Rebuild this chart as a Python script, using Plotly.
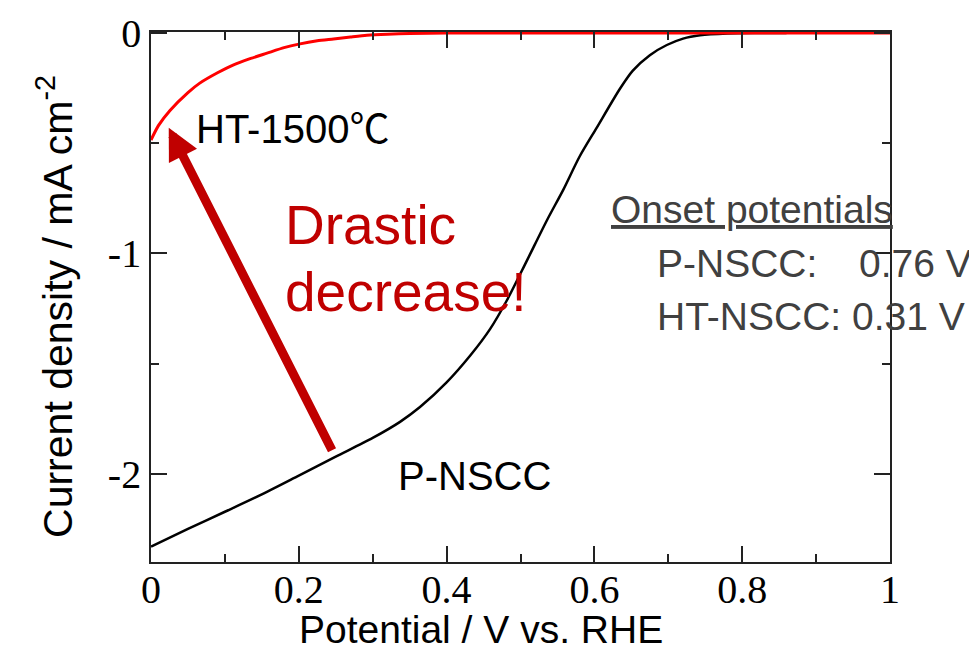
import plotly.graph_objects as go

# P-NSCC LSV curve
p_x = [0.0, 0.05, 0.10, 0.15, 0.20, 0.25, 0.30, 0.337, 0.364, 0.40, 0.432, 0.459, 0.482,
       0.509, 0.536, 0.558, 0.58, 0.603, 0.635, 0.652, 0.675, 0.698, 0.72, 0.743, 0.78,
       0.82, 0.86]
p_y = [-2.33, -2.25, -2.172, -2.093, -2.008, -1.922, -1.837, -1.764, -1.697, -1.585, -1.463,
       -1.342, -1.21, -1.03, -0.848, -0.71, -0.56, -0.43, -0.25, -0.17, -0.10, -0.054,
       -0.025, -0.01, -0.002, 0.0, 0.0]

# HT-1500 LSV curve
ht_x = [0.0, 0.01, 0.026, 0.05, 0.066, 0.09, 0.111, 0.135, 0.157, 0.18, 0.20, 0.225, 0.247,
        0.27, 0.292, 0.32, 0.35, 0.40, 0.50, 0.60, 0.70, 0.80, 0.90, 1.0]
ht_y = [-0.485, -0.42, -0.35, -0.27, -0.227, -0.18, -0.145, -0.115, -0.091, -0.066, -0.05,
        -0.035, -0.027, -0.018, -0.01, -0.005, -0.002, 0.0, 0.0, 0.0, 0.0, 0.0, 0.0, 0.0]

x_tickvals = [0, 0.2, 0.4, 0.6, 0.8, 1]
x_ticktext = ["0", "0.2", "0.4", "0.6", "0.8", "1"]
y_tickvals = [0, -1, -2]
y_ticktext = ["0", "-1", "-2"]

SANS = "Liberation Sans, Arial, Noto Sans CJK JP, sans-serif"
SERIF = "Liberation Serif, Times New Roman, serif"
DARKRED = "#C00000"
GRAY = "#404040"

fig = go.Figure()
fig.add_trace(go.Scatter(x=p_x, y=p_y, mode="lines",
                         line=dict(color="black", width=2.5, shape="spline", smoothing=0.8),
                         showlegend=False))
fig.add_trace(go.Scatter(x=ht_x, y=ht_y, mode="lines",
                         line=dict(color="#FF0000", width=3, shape="spline", smoothing=0.6),
                         showlegend=False))

axis_common = dict(showline=True, linecolor="#222222", linewidth=1.6, mirror="ticks",
                   ticks="inside", tickcolor="#222222", tickwidth=1.6, ticklen=16,
                   showgrid=False, zeroline=False, automargin=False,
                   tickfont=dict(family=SERIF, size=40, color="black"))

fig.update_xaxes(range=[0, 1], tickvals=x_tickvals, ticktext=x_ticktext,
                 ticklabelstandoff=-9,
                 minor=dict(ticks="inside", dtick=0.1, tick0=0, ticklen=8,
                            tickwidth=1.6, tickcolor="#222222"),
                 **axis_common)
fig.update_yaxes(range=[-2.4, 0.005], tickvals=y_tickvals, ticktext=y_ticktext,
                 minor=dict(ticks="inside", dtick=0.5, tick0=0, ticklen=8,
                            tickwidth=1.6, tickcolor="#222222"),
                 **axis_common)

ann = []
# axis titles
ann.append(dict(x=0.4466, y=-0.127, xref="paper", yref="paper", text="Potential / V vs. RHE",
                showarrow=False, font=dict(family=SANS, size=39, color="black"),
                xanchor="center", yanchor="middle"))
ann.append(dict(x=-0.130, y=0.483, xref="paper", yref="paper",
                text="Current density / mA cm<sup>-2</sup>", textangle=-90,
                showarrow=False, font=dict(family=SANS, size=41, color="black"),
                xanchor="center", yanchor="middle"))
# curve labels
ann.append(dict(x=0.058, y=-0.433, xref="x", yref="y", text="HT-1500℃", showarrow=False,
                font=dict(family=SANS, size=40, color="black"), xanchor="left", yanchor="middle"))
ann.append(dict(x=0.331, y=-2.011, xref="x", yref="y", text="P-NSCC", showarrow=False,
                font=dict(family=SANS, size=40, color="black"), xanchor="left", yanchor="middle"))
# red message
ann.append(dict(x=0.178, y=-0.871, xref="x", yref="y", text="Drastic", showarrow=False,
                font=dict(family=SANS, size=55, color=DARKRED), xanchor="left", yanchor="middle"))
ann.append(dict(x=0.178, y=-1.175, xref="x", yref="y", text="decrease!", showarrow=False,
                font=dict(family=SANS, size=55, color=DARKRED), xanchor="left", yanchor="middle"))
# onset potentials box
ann.append(dict(x=0.620, y=-0.80, xref="paper", yref="y", text="<u>Onset potentials</u>",
                showarrow=False, font=dict(family=SANS, size=39, color=GRAY),
                xanchor="left", yanchor="middle"))
ann.append(dict(x=0.682, y=-1.045, xref="paper", yref="y", text="P-NSCC:", showarrow=False,
                font=dict(family=SANS, size=39, color=GRAY), xanchor="left", yanchor="middle"))
ann.append(dict(x=1.113, y=-1.045, xref="paper", yref="y", text="0.76 V", showarrow=False,
                font=dict(family=SANS, size=39, color=GRAY), xanchor="right", yanchor="middle"))
ann.append(dict(x=0.682, y=-1.286, xref="paper", yref="y", text="HT-NSCC: 0.31 V",
                showarrow=False, font=dict(family=SANS, size=39, color=GRAY),
                xanchor="left", yanchor="middle"))
# arrow
ann.append(dict(x=0.024, y=-0.43, ax=0.246, ay=-1.90, xref="x", yref="y", axref="x", ayref="y",
                text="", showarrow=True, arrowhead=2, arrowsize=0.7, arrowwidth=9,
                arrowcolor=DARKRED, standoff=0))

# page body has an 8px margin, so the figure is 8px smaller and margins shifted
fig.update_layout(width=969, height=645, margin=dict(l=143, r=87, t=24, b=91),
                  paper_bgcolor="white", plot_bgcolor="white", annotations=ann,
                  showlegend=False)

fig.write_html("out.html")
